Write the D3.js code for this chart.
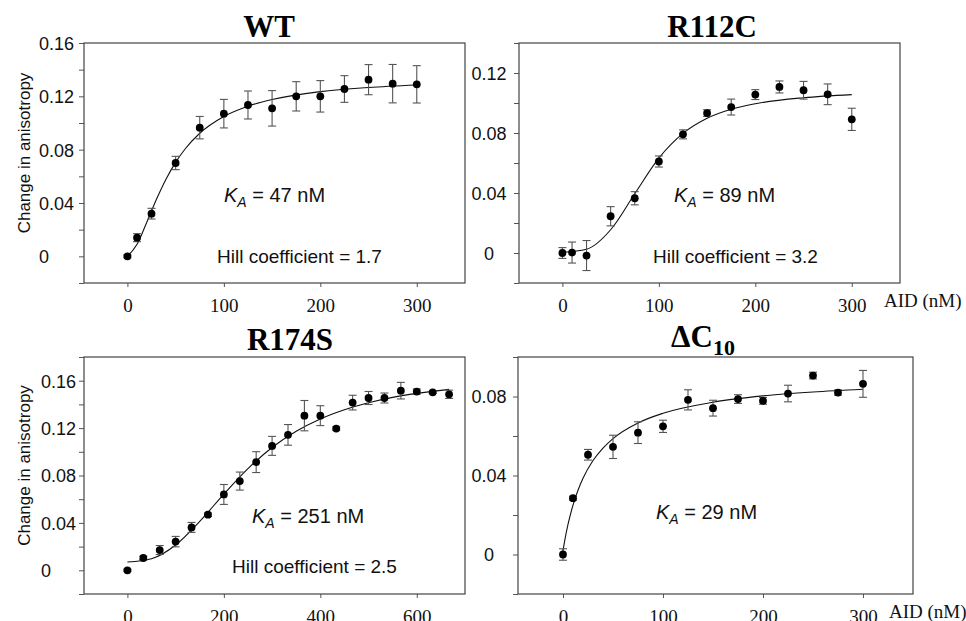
<!DOCTYPE html>
<html>
<head>
<meta charset="utf-8">
<script src="https://cdn.jsdelivr.net/npm/d3@7"></script>
<style>
  body { margin: 0; background: #fff; }
  svg { display: block; }
  .ytick text { font-family: "Liberation Sans", Arial, sans-serif; font-size: 18px; fill: #111; }
  .xtick text { font-family: "Liberation Serif", "Times New Roman", serif; font-size: 19px; fill: #111; }
</style>
</head>
<body>
<svg id="chart" width="966" height="621"></svg>
<script>
// WT
var wtConc = [0, 10, 25, 50, 75, 100, 125, 150, 175, 200, 225, 250, 275, 300];
var wtAniso = [0, 0.014, 0.032, 0.070, 0.0965, 0.107, 0.1135, 0.111, 0.120, 0.120, 0.1255, 0.1325, 0.1295, 0.129];
var wtErr = [0.001, 0.003, 0.004, 0.005, 0.0084, 0.0107, 0.0105, 0.0133, 0.011, 0.0118, 0.010, 0.0113, 0.0144, 0.014];
var wtFitConc = [0, 10, 20, 30, 40, 50, 60, 75, 100, 125, 150, 200, 250, 300];
var wtFitAniso = [0, 0.009, 0.0254, 0.0426, 0.0579, 0.0705, 0.0807, 0.0923, 0.1049, 0.1126, 0.1176, 0.1235, 0.1266, 0.1285];

// R112C
var r112cConc = [0, 10, 25, 50, 75, 100, 125, 150, 175, 200, 225, 250, 275, 300];
var r112cAniso = [0, 0.0003, -0.0017, 0.0245, 0.0365, 0.061, 0.0791, 0.0933, 0.0973, 0.1056, 0.1107, 0.1085, 0.1058, 0.0891];
var r112cErr = [0.0036, 0.007, 0.01, 0.0064, 0.0044, 0.0037, 0.003, 0.0022, 0.0053, 0.0033, 0.004, 0.0059, 0.0069, 0.0074];
var r112cFitConc = [0, 25, 50, 75, 100, 125, 150, 175, 200, 250, 300];
var r112cFitAniso = [0.0005, 0.0025, 0.0155, 0.0395, 0.0632, 0.0797, 0.0898, 0.0958, 0.0995, 0.1035, 0.1056];

// R174S
var r174sConc = [0, 33, 67, 100, 133, 167, 200, 233, 267, 300, 333, 367, 400, 433, 467, 500, 533, 567, 600, 633, 667];
var r174sAniso = [0, 0.0104, 0.0171, 0.0242, 0.0362, 0.0469, 0.064, 0.0753, 0.0913, 0.105, 0.1143, 0.1305, 0.1305, 0.1196, 0.1415, 0.1454, 0.1454, 0.1516, 0.1508, 0.1502, 0.1485];
var r174sErr = [0.001, 0.0015, 0.0038, 0.0044, 0.0042, 0.0015, 0.0084, 0.0076, 0.0088, 0.008, 0.0087, 0.0128, 0.0084, 0.0015, 0.0062, 0.0055, 0.0042, 0.007, 0.0022, 0.001, 0.0035];
var r174sFitConc = [0, 50, 100, 150, 200, 250, 300, 350, 400, 450, 500, 550, 600, 667];
var r174sFitAniso = [0.007, 0.0098, 0.0214, 0.0413, 0.0643, 0.0858, 0.1036, 0.1173, 0.1277, 0.1355, 0.1414, 0.1459, 0.1493, 0.1527];

// dC10
var dc10Conc = [0, 10, 25, 50, 75, 100, 125, 150, 175, 200, 225, 250, 275, 300];
var dc10Aniso = [0, 0.0285, 0.0505, 0.0545, 0.0617, 0.0649, 0.0783, 0.0741, 0.0787, 0.0778, 0.0815, 0.0906, 0.082, 0.0864];
var dc10Err = [0.0029, 0.001, 0.0027, 0.0059, 0.0055, 0.0031, 0.0051, 0.004, 0.0022, 0.0017, 0.0042, 0.0017, 0.0013, 0.0068];
var dc10FitConc = [0, 2, 5, 10, 15, 20, 30, 40, 50, 75, 100, 150, 200, 250, 300];
var dc10FitAniso = [0.002, 0.0078, 0.0152, 0.025, 0.0325, 0.0386, 0.0476, 0.0539, 0.0587, 0.0666, 0.0715, 0.0771, 0.0803, 0.0823, 0.0837];

// tick labels
var xTicks300 = [0, 100, 200, 300];
var xTicks600 = [0, 200, 400, 600];
var yMajorWT = [0, 0.04, 0.08, 0.12, 0.16];
var yMinorWT = [-0.02, 0.02, 0.06, 0.10, 0.14];
var yMajorR112C = [0, 0.04, 0.08, 0.12];
var yMinorR112C = [-0.02, 0.02, 0.06, 0.10, 0.14];
var yMajorR174S = [0, 0.04, 0.08, 0.12, 0.16];
var yMinorR174S = [-0.02, 0.02, 0.06, 0.10, 0.14, 0.18];
var yMajorDC10 = [0, 0.04, 0.08];
var yMinorDC10 = [-0.02, 0.02, 0.06, 0.10];

var panels = [
  { title: "WT", conc: wtConc, aniso: wtAniso, err: wtErr, fitC: wtFitConc, fitA: wtFitAniso,
    box: [84, 43, 465, 283], xDom: [-45, 350], yDom: [-0.02, 0.16], xTicks: xTicks300,
    yMajor: yMajorWT, yMinor: yMinorWT, labelAlign: "start", labelX: 39, titleX: 269, titleY: 37,
    ka: "47", kaPos: [224, 202], hill: "1.7", hillPos: [217, 263], ylabel: true, aid: false },
  { title: "R112C", conc: r112cConc, aniso: r112cAniso, err: r112cErr, fitC: r112cFitConc, fitA: r112cFitAniso,
    box: [519, 43, 900, 283], xDom: [-45, 350], yDom: [-0.02, 0.14], xTicks: xTicks300,
    yMajor: yMajorR112C, yMinor: yMinorR112C, labelAlign: "middle", labelX: 489, titleX: 712, titleY: 37,
    ka: "89", kaPos: [674, 202], hill: "3.2", hillPos: [653, 263], ylabel: false, aid: true },
  { title: "R174S", conc: r174sConc, aniso: r174sAniso, err: r174sErr, fitC: r174sFitConc, fitA: r174sFitAniso,
    box: [84, 357, 465, 594], xDom: [-90, 700], yDom: [-0.02, 0.18], xTicks: xTicks600,
    yMajor: yMajorR174S, yMinor: yMinorR174S, labelAlign: "start", labelX: 41, titleX: 290, titleY: 350,
    ka: "251", kaPos: [252, 523], hill: "2.5", hillPos: [232, 573], ylabel: true, aid: false },
  { title: "dC10", conc: dc10Conc, aniso: dc10Aniso, err: dc10Err, fitC: dc10FitConc, fitA: dc10FitAniso,
    box: [518, 357, 913, 594], xDom: [-45, 350], yDom: [-0.02, 0.10], xTicks: xTicks300,
    yMajor: yMajorDC10, yMinor: yMinorDC10, labelAlign: "middle", labelX: 489, titleX: 703, titleY: 347,
    ka: "29", kaPos: [656, 519], hill: null, ylabel: false, aid: true }
];

var svg = d3.select("#chart");
var sans = '"Liberation Sans", Arial, sans-serif';
var serif = '"Liberation Serif", "Times New Roman", serif';
var fmt = function(d) { return d === 0 ? "0" : d.toFixed(2); };

panels.forEach(function(p) {
  var x = d3.scaleLinear().domain(p.xDom).range([p.box[0], p.box[2]]);
  var y = d3.scaleLinear().domain(p.yDom).range([p.box[3], p.box[1]]);
  var g = svg.append("g");

  // y axis, major + minor ticks
  var ya = g.append("g").attr("class", "ytick")
    .attr("transform", "translate(" + p.box[0] + ",0)")
    .call(d3.axisLeft(y).tickValues(p.yMajor).tickSize(5).tickFormat(fmt));
  ya.select(".domain").remove();
  ya.selectAll("line").attr("stroke", "#555");
  ya.selectAll("text")
    .attr("text-anchor", p.labelAlign)
    .attr("x", p.labelX - p.box[0])
    .attr("dy", "0.36em");

  var ym = g.append("g")
    .attr("transform", "translate(" + p.box[0] + ",0)")
    .call(d3.axisLeft(y).tickValues(p.yMinor).tickSize(5).tickFormat(""));
  ym.select(".domain").remove();
  ym.selectAll("line").attr("stroke", "#555");

  // x axis
  var xa = g.append("g").attr("class", "xtick")
    .attr("transform", "translate(0," + p.box[3] + ")")
    .call(d3.axisBottom(x).tickValues(p.xTicks).tickSize(4).tickPadding(8).tickFormat(d3.format("d")));
  xa.select(".domain").remove();
  xa.selectAll("line").attr("stroke", "#555");
  xa.selectAll("text").attr("dy", "0.9em");

  // frame
  g.append("rect")
    .attr("x", p.box[0]).attr("y", p.box[1])
    .attr("width", p.box[2] - p.box[0]).attr("height", p.box[3] - p.box[1])
    .attr("fill", "none").attr("stroke", "#444").attr("stroke-width", 1.2);

  // fit curve
  var line = d3.line()
    .x(function(d, i) { return x(p.fitC[i]); })
    .y(function(d) { return y(d); })
    .curve(d3.curveMonotoneX);
  g.append("path")
    .attr("d", line(p.fitA))
    .attr("fill", "none").attr("stroke", "#111").attr("stroke-width", 1.1);

  // error bars
  var eb = g.selectAll(".eb").data(p.aniso).enter().append("g").attr("class", "eb");
  eb.append("line")
    .attr("x1", function(d, i) { return x(p.conc[i]); })
    .attr("x2", function(d, i) { return x(p.conc[i]); })
    .attr("y1", function(d, i) { return y(d - p.err[i]); })
    .attr("y2", function(d, i) { return y(d + p.err[i]); });
  eb.append("line")
    .attr("x1", function(d, i) { return x(p.conc[i]) - 4; })
    .attr("x2", function(d, i) { return x(p.conc[i]) + 4; })
    .attr("y1", function(d, i) { return y(d - p.err[i]); })
    .attr("y2", function(d, i) { return y(d - p.err[i]); });
  eb.append("line")
    .attr("x1", function(d, i) { return x(p.conc[i]) - 4; })
    .attr("x2", function(d, i) { return x(p.conc[i]) + 4; })
    .attr("y1", function(d, i) { return y(d + p.err[i]); })
    .attr("y2", function(d, i) { return y(d + p.err[i]); });
  eb.selectAll("line").attr("stroke", "#555").attr("stroke-width", 1.1);

  // points
  g.selectAll(".dot").data(p.aniso).enter().append("circle")
    .attr("class", "dot")
    .attr("cx", function(d, i) { return x(p.conc[i]); })
    .attr("cy", function(d) { return y(d); })
    .attr("r", 3.9)
    .attr("fill", "#000");

  // title
  var t = g.append("text")
    .attr("x", p.titleX).attr("y", p.titleY)
    .attr("text-anchor", "middle")
    .style("font-family", serif).style("font-weight", "bold").style("font-size", "31px");
  if (p.title === "dC10") {
    t.append("tspan").text("\u0394C");
    t.append("tspan").attr("dy", 8).style("font-size", "22px").text("10");
  } else {
    t.text(p.title);
  }

  // K_A label
  var k = g.append("text")
    .attr("x", p.kaPos[0]).attr("y", p.kaPos[1])
    .style("font-family", sans).style("font-size", "20px").attr("fill", "#111");
  k.append("tspan").style("font-style", "italic").text("K");
  k.append("tspan").style("font-style", "italic").style("font-size", "14px").attr("dy", 5).text("A");
  k.append("tspan").attr("dy", -5).text(" = " + p.ka + " nM");

  if (p.hill) {
    g.append("text")
      .attr("x", p.hillPos[0]).attr("y", p.hillPos[1])
      .style("font-family", sans).style("font-size", "19px").attr("fill", "#111")
      .text("Hill coefficient = " + p.hill);
  }

  if (p.ylabel) {
    var cy = (p.box[1] + p.box[3]) / 2 - 10;
    g.append("text")
      .attr("transform", "translate(24," + cy + ") rotate(-90)")
      .attr("text-anchor", "middle")
      .attr("dy", "0.35em")
      .style("font-family", sans).style("font-size", "17px").attr("fill", "#111")
      .text("Change in anisotropy");
  }

  if (p.aid) {
    g.append("text")
      .attr("x", p.box[0] === 519 ? 884 : 889)
      .attr("y", p.box[3] + 24)
      .style("font-family", serif).style("font-size", "19px").attr("fill", "#111")
      .text("AID (nM)");
  }
});
</script>
</body>
</html>
